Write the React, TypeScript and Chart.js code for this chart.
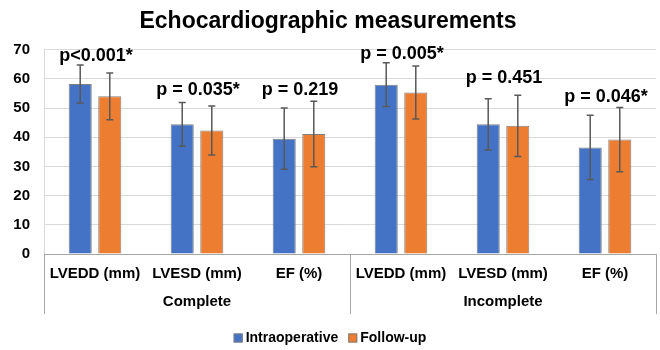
import React, { useEffect, useRef } from 'react';
import { Chart, registerables } from 'chart.js';

Chart.register(...registerables);

const groups = ['Complete', 'Incomplete'];
const measures = ['LVEDD (mm)', 'LVESD (mm)', 'EF (%)'];
const categories = [...measures, ...measures];
const seriesNames = ['Intraoperative', 'Follow-up'];
const intraoperative = [58.2, 44.4, 39.5, 58.0, 44.4, 36.5];
const intraoperativeSD = [6.5, 7.5, 10.5, 7.5, 8.8, 11.0];
const followUp = [54.0, 42.3, 41.1, 55.3, 43.9, 39.2];
const followUpSD = [8.0, 8.4, 11.2, 9.1, 10.5, 11.0];
const pLabels = ['p<0.001*', 'p = 0.035*', 'p = 0.219', 'p = 0.005*', 'p = 0.451', 'p = 0.046*'];
const pLabelBase = [66.0, 54.6, 54.6, 66.8, 58.7, 52.0];
const yMin = 0;
const yMax = 70;
const yStep = 10;
const colors = ['#4472C4', '#ED7D31'];

const FONT = "'Liberation Sans', Arial, sans-serif";

const errorBarPlugin = {
  id: 'errorBars',
  afterDatasetsDraw(chart: any) {
    const ctx = chart.ctx;
    const y = chart.scales.y;
    chart.data.datasets.forEach((ds: any, di: number) => {
      const meta = chart.getDatasetMeta(di);
      meta.data.forEach((bar: any, i: number) => {
        const v = ds.data[i];
        const s = ds.sd[i];
        const yt = y.getPixelForValue(v + s);
        const yb = y.getPixelForValue(v - s);
        ctx.save();
        ctx.strokeStyle = '#595959';
        ctx.lineWidth = 1.5;
        ctx.beginPath();
        ctx.moveTo(bar.x, yt);
        ctx.lineTo(bar.x, yb);
        ctx.moveTo(bar.x - 3.5, yt);
        ctx.lineTo(bar.x + 3.5, yt);
        ctx.moveTo(bar.x - 3.5, yb);
        ctx.lineTo(bar.x + 3.5, yb);
        ctx.stroke();
        ctx.restore();
      });
    });
  },
};

const annotationPlugin = {
  id: 'annotations',
  afterDraw(chart: any) {
    const ctx = chart.ctx;
    const x = chart.scales.x;
    const y = chart.scales.y;
    const area = chart.chartArea;
    ctx.save();
    // p-value labels
    ctx.fillStyle = '#000';
    ctx.font = `bold 18px ${FONT}`;
    ctx.textAlign = 'center';
    ctx.textBaseline = 'alphabetic';
    pLabels.forEach((t, i) => {
      ctx.fillText(t, x.getPixelForValue(i) + 1, y.getPixelForValue(pLabelBase[i]));
    });
    // group separators and labels
    const per = measures.length;
    const bounds: number[] = [area.left];
    for (let g = 1; g < groups.length; g++) {
      const a = x.getPixelForValue(g * per - 1);
      const b = x.getPixelForValue(g * per);
      bounds.push((a + b) / 2);
    }
    bounds.push(area.right);
    ctx.strokeStyle = '#a6a6a6';
    ctx.lineWidth = 1;
    ctx.beginPath();
    bounds.forEach((bx) => {
      const px = Math.round(bx) + 0.5;
      ctx.moveTo(px, area.bottom);
      ctx.lineTo(px, area.bottom + 60);
    });
    ctx.stroke();
    ctx.font = `bold 15px ${FONT}`;
    ctx.textBaseline = 'middle';
    groups.forEach((gname, g) => {
      ctx.fillText(gname, (bounds[g] + bounds[g + 1]) / 2, area.bottom + 48);
    });
    // legend
    ctx.font = `bold 14px ${FONT}`;
    const box = 9;
    const gapBox = 3;
    const gapItem = 10;
    const widths = seriesNames.map((n) => box + gapBox + ctx.measureText(n).width);
    const total = widths.reduce((a, b) => a + b, 0) + gapItem * (widths.length - 1);
    let lx = chart.width / 2 - total / 2;
    const ly = 338;
    ctx.textAlign = 'left';
    seriesNames.forEach((n, i) => {
      ctx.fillStyle = colors[i];
      ctx.fillRect(lx, ly - box / 2, box, box);
      ctx.strokeStyle = '#7f7f7f';
      ctx.strokeRect(lx + 0.5, ly - box / 2 + 0.5, box - 1, box - 1);
      ctx.fillStyle = '#000';
      ctx.fillText(n, lx + box + gapBox, ly);
      lx += widths[i] + gapItem;
    });
    ctx.restore();
  },
};

export default function App() {
  const ref = useRef<HTMLCanvasElement>(null);
  useEffect(() => {
    if (!ref.current) return;
    const chart = new Chart(ref.current, {
      type: 'bar',
      data: {
        labels: categories,
        datasets: [
          {
            label: seriesNames[0],
            data: intraoperative,
            sd: intraoperativeSD,
            backgroundColor: colors[0],
            borderColor: '#7f7f7f',
            borderWidth: 1,
            categoryPercentage: 0.58,
            barPercentage: 0.78,
          } as any,
          {
            label: seriesNames[1],
            data: followUp,
            sd: followUpSD,
            backgroundColor: colors[1],
            borderColor: '#7f7f7f',
            borderWidth: 1,
            categoryPercentage: 0.58,
            barPercentage: 0.78,
          } as any,
        ],
      },
      options: {
        animation: false,
        responsive: false,
        devicePixelRatio: 1,
        layout: { padding: { left: 0, right: 4, top: 0, bottom: 36 } },
        plugins: {
          legend: { display: false },
          tooltip: { enabled: false },
          title: {
            display: true,
            text: 'Echocardiographic measurements',
            color: '#000',
            font: { family: FONT, size: 23, weight: 'bold' },
            padding: { top: 8, bottom: 14 },
          },
        },
        scales: {
          x: {
            grid: { display: false, drawTicks: false },
            border: { display: true, color: '#a6a6a6', width: 1 },
            ticks: {
              color: '#000',
              font: { family: FONT, size: 15, weight: 'bold' },
              padding: 11,
              maxRotation: 0,
              autoSkip: false,
            },
            afterFit(scale: any) {
              scale.height = 60;
            },
          },
          y: {
            min: yMin,
            max: yMax,
            grid: { color: '#d9d9d9', drawTicks: false },
            border: { display: true, color: '#d9d9d9', width: 1 },
            ticks: {
              stepSize: yStep,
              color: '#000',
              font: { family: FONT, size: 15, weight: 'bold' },
              padding: 14,
            },
            afterFit(scale: any) {
              scale.width = 44;
            },
          },
        },
      },
      plugins: [errorBarPlugin, annotationPlugin],
    });
    return () => chart.destroy();
  }, []);
  return (
    <div style={{ position: 'fixed', left: 0, top: 0, width: 660, height: 350, background: '#fff' }}>
      <canvas ref={ref} width={660} height={350} />
    </div>
  );
}
